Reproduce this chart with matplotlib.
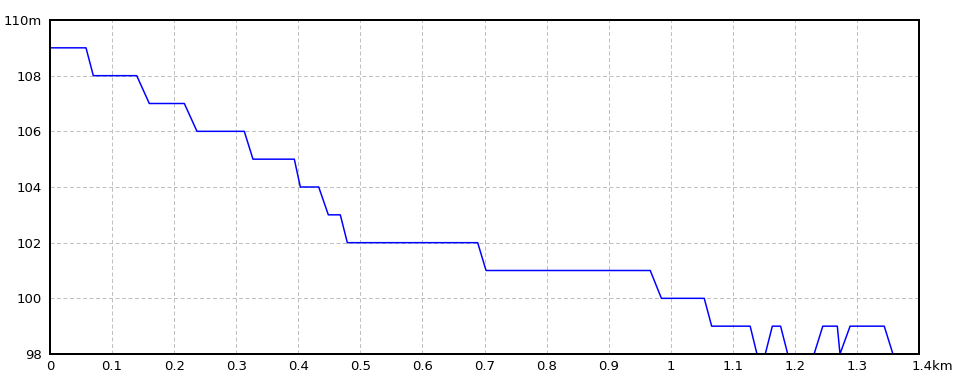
import matplotlib
matplotlib.use("Agg")
import matplotlib.pyplot as plt
import matplotlib.transforms as mtransforms

# elevation profile (km, m)
dist_km = [0.0, 0.058, 0.0698, 0.1397, 0.160, 0.2164, 0.2368, 0.313, 0.327,
           0.3936, 0.4033, 0.4329, 0.4484, 0.4677, 0.479, 0.689, 0.7025,
           0.967, 0.985, 1.054, 1.066, 1.128, 1.1455, 1.1637, 1.177,
           1.2, 1.217, 1.245, 1.2684, 1.2727, 1.289, 1.344, 1.372, 1.39]
elev_m = [109, 109, 108, 108, 107, 107, 106, 106, 105,
          105, 104, 104, 103, 103, 102, 102, 101,
          101, 100, 100, 99, 99, 97.4, 99, 99,
          97, 97, 99, 99, 98, 99, 99, 97, 97]

xticks = [0, 0.1, 0.2, 0.3, 0.4, 0.5, 0.6, 0.7, 0.8, 0.9, 1.0, 1.1, 1.2, 1.3, 1.4]
xlabels = ["0", "0.1", "0.2", "0.3", "0.4", "0.5", "0.6", "0.7", "0.8", "0.9",
           "1", "1.1", "1.2", "1.3", "1.4km"]
yticks = [98, 100, 102, 104, 106, 108, 110]
ylabels = ["98", "100", "102", "104", "106", "108", "110m"]

plt.rcParams['font.family'] = ['Liberation Sans Narrow', 'DejaVu Sans']
px = 0.72  # one pixel in points at dpi 100

fig = plt.figure(figsize=(9.6, 3.84), dpi=100)
ax = fig.add_axes([50 / 960, 30 / 384, 869 / 960, 334 / 384])

ax.plot(dist_km, elev_m, color='#0000ff', lw=1.5 * px, clip_on=True)

ax.set_xlim(0, 1.4)
ax.set_ylim(98, 110)
ax.set_xticks(xticks)
ax.set_xticklabels(xlabels)
ax.set_yticks(yticks)
ax.set_yticklabels(ylabels)
ax.tick_params(length=0, labelsize=9.5, colors='black')
ax.tick_params(axis='x', pad=4)
ax.tick_params(axis='y', pad=6)

ax.grid(True, color='#c0c0c0', lw=px, linestyle=(0, (4, 2.5)))
ax.set_axisbelow(True)
for s in ax.spines.values():
    s.set_linewidth(2 * px)
    s.set_color('black')

# last x label: number centred on the tick, unit hanging to the right
lab = ax.get_xticklabels()[-1]
lab.set_horizontalalignment('left')
lab.set_transform(lab.get_transform() +
                  mtransforms.ScaledTranslation(-7 / 100, 0, fig.dpi_scale_trans))

fig.savefig("out.png", dpi=100)
